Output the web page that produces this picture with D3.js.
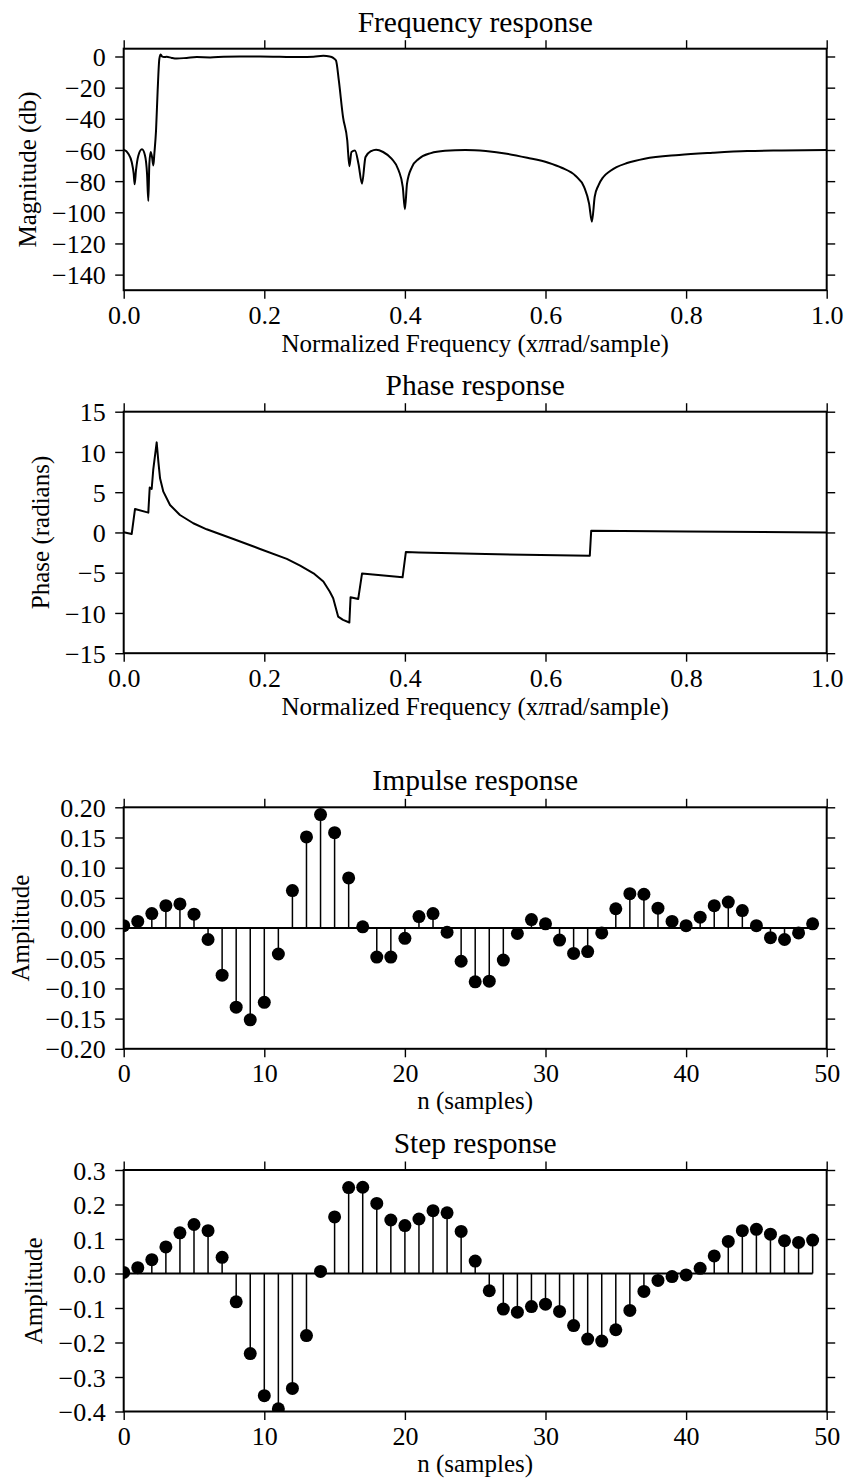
<!DOCTYPE html>
<html>
<head>
<meta charset="utf-8">
<script src="https://cdn.jsdelivr.net/npm/d3@7/dist/d3.min.js"></script>
<style>
    body { margin: 0; background: #fff; }
    svg { display: block; }
</style>
</head>
<body>
<div id="chart"></div>
<script>
// frequency response (normalized freq, dB)
var freqF = [0, 0.0066, 0.0114, 0.0142, 0.0156, 0.0175, 0.0209, 0.026, 0.0303, 0.0332, 0.035, 0.0365,
    0.0384, 0.0403, 0.0422, 0.0436, 0.046, 0.0483, 0.0507, 0.0526, 0.0545, 0.0573, 0.0611, 0.0682,
    0.0754, 0.0896, 0.104, 0.123, 0.142, 0.165, 0.194, 0.222, 0.251, 0.270, 0.284, 0.293, 0.298,
    0.302, 0.306, 0.312, 0.318, 0.321, 0.324, 0.329, 0.334, 0.339, 0.344, 0.352, 0.359, 0.369,
    0.381, 0.391, 0.397, 0.400, 0.403, 0.410, 0.420, 0.437, 0.457, 0.486, 0.515, 0.545, 0.574,
    0.604, 0.623, 0.643, 0.655, 0.662, 0.666, 0.670, 0.675, 0.682, 0.692, 0.701, 0.716, 0.741,
    0.790, 0.838, 0.887, 0.936, 1.0];
var freqDb = [-59.8, -62.4, -67.7, -75.2, -82, -73, -63.5, -59.6, -63.5, -75.2, -92.7, -68.8,
    -61.3, -64.5, -69.9, -62.4, -47.4, -21.8, -1.5, 1.3, 0, -0.4, -0.2, -0.9,
    -1.3, -0.9, -0.4, -0.6, -0.2, 0, 0, -0.2, -0.4, -0.2, 0.4, 0, -0.9,
    -2.6, -15.4, -38.9, -53.8, -70.5, -61.3, -60.3, -69, -81.6, -64.5, -60.7, -59.8, -61.3,
    -65.6, -73, -83.8, -98, -81.6, -71, -65.6, -62, -60.5, -60, -60.7, -62.4, -65,
    -68.2, -71.4, -76.7, -83.8, -94.4, -106, -90, -83, -77.5, -73.5, -71, -68.4, -65.6,
    -63.2, -61.8, -60.7, -60.3, -60];

// phase response (normalized freq, radians)
var phaseF = [0, 0.0114, 0.0161, 0.035, 0.037, 0.0398, 0.042, 0.0469, 0.0493, 0.0517, 0.0564, 0.0659,
    0.080, 0.099, 0.118, 0.156, 0.194, 0.232, 0.251, 0.270, 0.284, 0.293, 0.298, 0.305, 0.312,
    0.321, 0.3227, 0.3336, 0.339, 0.3967, 0.4014, 0.420, 0.515, 0.663, 0.665, 0.80, 1.0];
var phaseRad = [0.02, -0.19, 2.92, 2.46, 5.57, 5.4, 7.76, 11.19, 8.79, 6.72, 5.07, 3.41,
    2.17, 1.14, 0.39, -0.81, -2.05, -3.29, -4.12, -5.07, -6.1, -7.34, -8.17, -10.45, -10.86,
    -11.19, -8.05, -8.26, -5.11, -5.57, -2.42, -2.49, -2.69, -2.9, 0.21, 0.12, 0.0];

// impulse and step responses, n = 0..49
var impulse = [0.004, 0.011, 0.024, 0.037, 0.040, 0.023, -0.019, -0.078, -0.131, -0.152,
    -0.123, -0.043, 0.062, 0.151, 0.188, 0.158, 0.083, 0.002, -0.048, -0.048,
    -0.017, 0.019, 0.024, -0.007, -0.055, -0.089, -0.088, -0.053, -0.009, 0.014,
    0.007, -0.020, -0.042, -0.039, -0.008, 0.032, 0.057, 0.056, 0.033, 0.011,
    0.004, 0.018, 0.037, 0.043, 0.029, 0.004, -0.016, -0.019, -0.008, 0.007];
var step = [0.003, 0.017, 0.040, 0.077, 0.118, 0.142, 0.124, 0.047, -0.082, -0.232,
    -0.354, -0.392, -0.333, -0.180, 0.006, 0.164, 0.249, 0.250, 0.203, 0.155,
    0.139, 0.158, 0.182, 0.176, 0.122, 0.036, -0.050, -0.103, -0.112, -0.096,
    -0.089, -0.110, -0.151, -0.190, -0.196, -0.163, -0.107, -0.052, -0.020, -0.009,
    -0.004, 0.015, 0.051, 0.093, 0.124, 0.128, 0.114, 0.095, 0.090, 0.097];

// tick values
var freqTicksX = [0, 0.2, 0.4, 0.6, 0.8, 1.0];
var magTicks = [0, -20, -40, -60, -80, -100, -120, -140];
var phaseTicks = [-15, -10, -5, 0, 5, 10, 15];
var nTicks = [0, 10, 20, 30, 40, 50];
var impulseTicks = [-0.20, -0.15, -0.10, -0.05, 0, 0.05, 0.10, 0.15, 0.20];
var stepTicks = [-0.4, -0.3, -0.2, -0.1, 0, 0.1, 0.2, 0.3];

var serif = "'Liberation Serif', 'Times New Roman', Times, serif";
var width = 846, height = 1480;
var left = 123.7, plotW = 703, plotH = 241.5;
var tickLen = 8.5;
var tickFont = 26;

var svg = d3.select("#chart")
    .append("svg")
    .attr("width", width)
    .attr("height", height);

function styleAxis(sel) {
    sel.select(".domain").remove();
    sel.selectAll(".tick line").attr("stroke", "#000").attr("stroke-width", 1.4);
    sel.attr("font-family", serif).attr("font-size", tickFont);
    sel.selectAll("text").attr("fill", "#000");
}

function drawPanel(id, top, xDomain, xTicks, xFmt, yDomain, yTicks, yFmt, title, xLabel, yLabel, xLabelOff) {
    var g = svg.append("g").attr("transform", "translate(" + left + "," + top + ")");
    var x = d3.scaleLinear().domain(xDomain).range([0, plotW]);
    var y = d3.scaleLinear().domain(yDomain).range([plotH, 0]);

    g.append("clipPath").attr("id", "clip-" + id)
        .append("rect").attr("width", plotW).attr("height", plotH);

    var bottom = g.append("g").attr("transform", "translate(0," + plotH + ")")
        .call(d3.axisBottom(x).tickValues(xTicks).tickFormat(xFmt).tickSize(tickLen).tickPadding(6.5));
    styleAxis(bottom);
    var topAx = g.append("g")
        .call(d3.axisTop(x).tickValues(xTicks).tickFormat("").tickSize(tickLen));
    styleAxis(topAx);
    var leftAx = g.append("g")
        .call(d3.axisLeft(y).tickValues(yTicks).tickFormat(yFmt).tickSize(tickLen).tickPadding(9.5));
    styleAxis(leftAx);
    leftAx.selectAll("text").attr("dy", "0.35em");
    var rightAx = g.append("g").attr("transform", "translate(" + plotW + ",0)")
        .call(d3.axisRight(y).tickValues(yTicks).tickFormat("").tickSize(tickLen));
    styleAxis(rightAx);

    var plot = g.append("g").attr("clip-path", "url(#clip-" + id + ")");

    // frame
    g.append("rect")
        .attr("width", plotW).attr("height", plotH)
        .attr("fill", "none").attr("stroke", "#000").attr("stroke-width", 2);

    g.append("text")
        .attr("x", plotW / 2).attr("y", -17)
        .attr("text-anchor", "middle")
        .attr("font-family", serif).attr("font-size", 29.5)
        .text(title);

    var xl = g.append("text")
        .attr("x", plotW / 2).attr("y", plotH + xLabelOff)
        .attr("text-anchor", "middle")
        .attr("font-family", serif).attr("font-size", 25);
    if (xLabel.indexOf("π") >= 0) {
        var parts = xLabel.split("π");
        xl.append("tspan").text(parts[0]);
        xl.append("tspan").attr("font-style", "italic").text("π");
        xl.append("tspan").text(parts[1]);
    } else {
        xl.text(xLabel);
    }

    var bb = leftAx.node().getBBox();
    g.append("text")
        .attr("transform", "translate(" + (bb.x - 11 - 5.4) + "," + (plotH / 2) + ") rotate(-90)")
        .attr("text-anchor", "middle")
        .attr("font-family", serif).attr("font-size", 25)
        .text(yLabel);

    return {plot: plot, x: x, y: y};
}

function drawLine(p, xs, ys, curve) {
    var pts = xs.map(function (v, i) { return [v, ys[i]]; });
    var line = d3.line()
        .curve(curve)
        .x(function (d) { return p.x(d[0]); })
        .y(function (d) { return p.y(d[1]); });
    p.plot.append("path")
        .datum(pts)
        .attr("d", line)
        .attr("fill", "none")
        .attr("stroke", "#000")
        .attr("stroke-width", 2)
        .attr("stroke-linejoin", "round");
}

function drawStem(p, vals) {
    var pts = vals.map(function (v, i) { return {n: i, v: v}; });
    p.plot.selectAll(".stem")
        .data(pts).enter().append("line")
        .attr("class", "stem")
        .attr("x1", function (d) { return p.x(d.n); })
        .attr("x2", function (d) { return p.x(d.n); })
        .attr("y1", p.y(0))
        .attr("y2", function (d) { return p.y(d.v); })
        .attr("stroke", "#000").attr("stroke-width", 1.5);
    p.plot.append("line")
        .attr("x1", p.x(0)).attr("x2", p.x(vals.length - 1))
        .attr("y1", p.y(0)).attr("y2", p.y(0))
        .attr("stroke", "#000").attr("stroke-width", 2);
    p.plot.selectAll(".mark")
        .data(pts).enter().append("circle")
        .attr("class", "mark")
        .attr("cx", function (d) { return p.x(d.n); })
        .attr("cy", function (d) { return p.y(d.v); })
        .attr("r", 6.5)
        .attr("fill", "#000");
}

var freqLabel = "Normalized Frequency (xπrad/sample)";

var p1 = drawPanel("mag", 48.7, [0, 1], freqTicksX, d3.format(".1f"), [-150, 5], magTicks, d3.format("d"),
    "Frequency response", freqLabel, "Magnitude (db)", 61.7);
drawLine(p1, freqF, freqDb, d3.curveMonotoneX);

var p2 = drawPanel("phase", 411.7, [0, 1], freqTicksX, d3.format(".1f"), [-15, 15], phaseTicks, d3.format("d"),
    "Phase response", freqLabel, "Phase (radians)", 61.7);
drawLine(p2, phaseF, phaseRad, d3.curveLinear);

var p3 = drawPanel("imp", 807.3, [0, 50], nTicks, d3.format("d"), [-0.2, 0.2], impulseTicks, d3.format(".2f"),
    "Impulse response", "n (samples)", "Amplitude", 60);
drawStem(p3, impulse);

var p4 = drawPanel("step", 1170, [0, 50], nTicks, d3.format("d"), [-0.4, 0.3], stepTicks, d3.format(".1f"),
    "Step response", "n (samples)", "Amplitude", 60);
drawStem(p4, step);
</script>
</body>
</html>
